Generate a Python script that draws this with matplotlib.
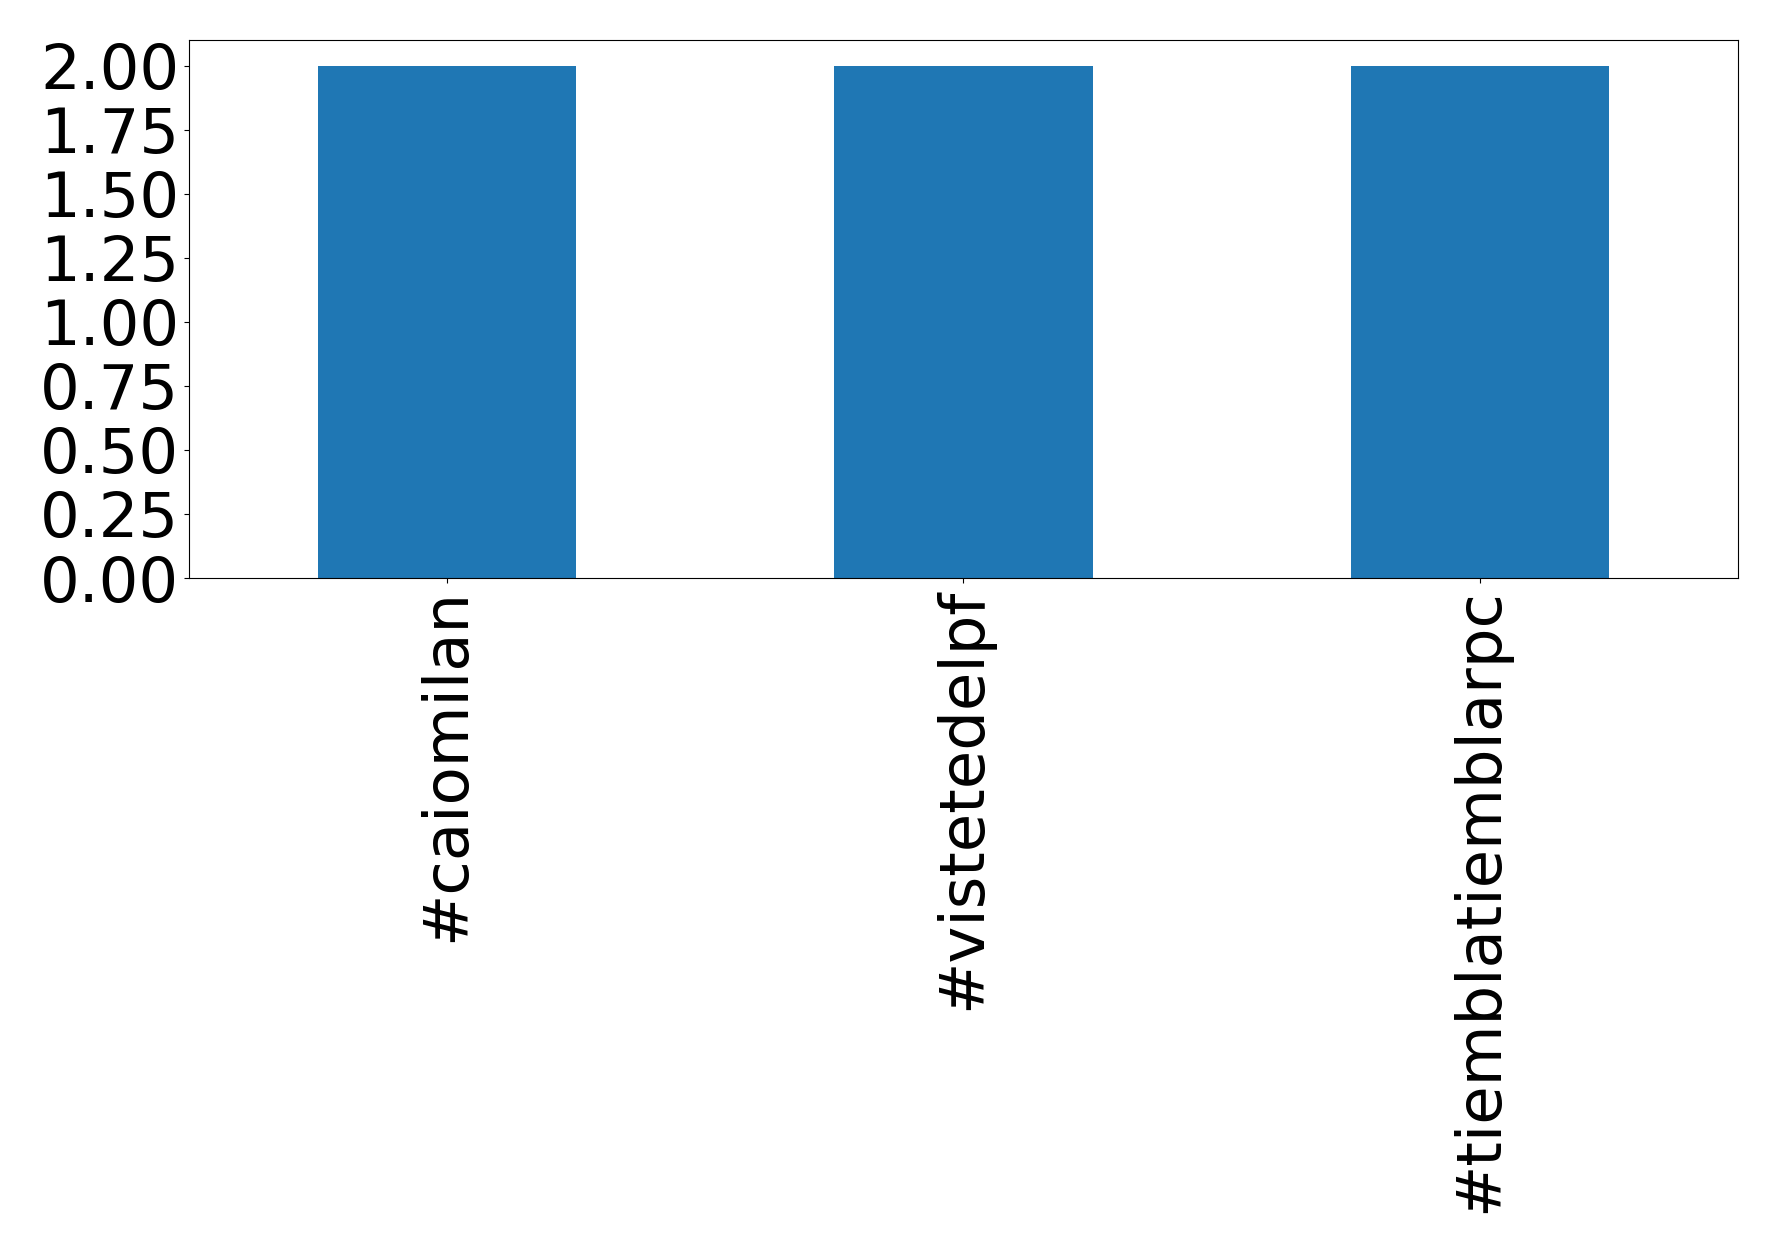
import matplotlib
matplotlib.use("Agg")
import matplotlib.pyplot as plt
import pandas as pd

hashtags = ["#caiomilan", "#vistetedelpf", "#tiemblatiemblarpc"]
counts = [2, 2, 2]

s = pd.Series(counts, index=hashtags)

fig = plt.figure(figsize=(17.78, 12.53), dpi=100)
ax = fig.add_axes([0.1063, 0.5387, 0.8712, 0.4294])
s.plot.bar(ax=ax, color="#1f77b4", fontsize=45)
ax.set_ylim(0, 2.1)

fig.savefig("out.png", dpi=100)
